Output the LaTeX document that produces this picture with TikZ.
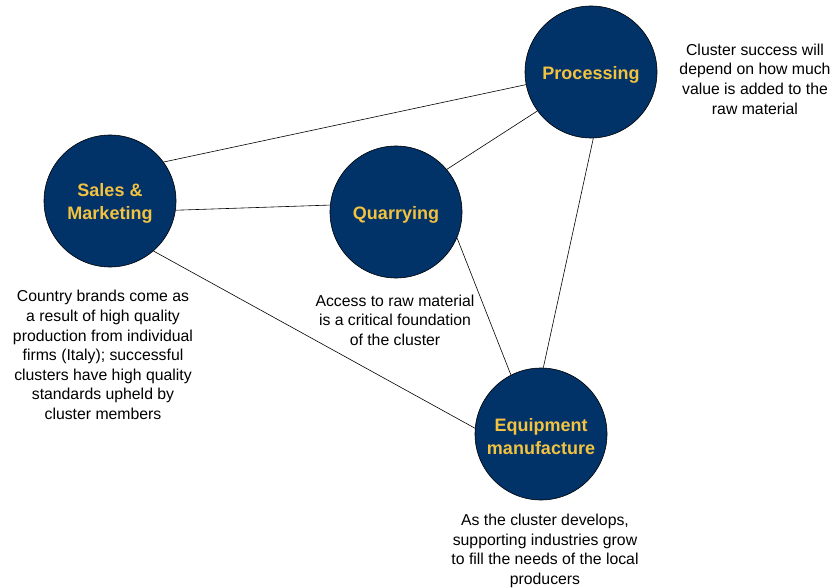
\documentclass[tikz,border=0pt]{standalone}
\usepackage{fontspec}
\setmainfont{Liberation Sans}
\definecolor{navy}{RGB}{1,50,104}
\definecolor{gold}{RGB}{242,194,64}
\begin{document}
\begin{tikzpicture}[x=1pt,y=-1pt,
  hub/.style={circle,draw=black,line width=0.6pt,fill=navy,minimum size=132pt,inner sep=0pt},
  hubtext/.style={text=gold,font=\fontsize{18}{22.5}\selectfont\bfseries,align=center,inner sep=0pt,yshift=-2.5pt},
  note/.style={align=center,font=\fontsize{15.8}{19.6}\selectfont,inner sep=0pt},
  link/.style={draw=black,line width=0.6pt}]
\useasboundingbox (0,0) rectangle (832,588);

% the four cluster elements
\node[hub] (proc) at (591,72) {};
\node[hub] (sales) at (110,201) {};
\node[hub] (quarry) at (396,212) {};
\node[hub] (equip) at (541,434) {};
\node[hubtext] (tproc) at (proc) {Processing};
\node[hubtext] (tsales) at (sales) {Sales \&\\Marketing};
\node[hubtext] (tquarry) at (quarry) {Quarrying};
\node[hubtext] (tequip) at (equip) {Equipment\\manufacture};

% links between the elements
\draw[link] (sales.36) -- (proc.191);
\draw[link] (sales.-8) -- (quarry.174);
\draw[link] (sales.-49) -- (equip.175);
\draw[link] (quarry.40) -- (proc.216);
\draw[link] (quarry.-23) -- (equip.117);
\draw[link] (proc.-88) -- (equip.88);

% explanatory notes
\node[note] (nproc) at (755,79) {Cluster success will\\depend on how much\\value is added to the\\raw material};
\node[note] (nsales) at (103,355) {Country brands come as\\a result of high quality\\production from individual\\firms (Italy); successful\\clusters have high quality\\standards upheld by\\cluster members};
\node[note] (nquarry) at (395,320) {Access to raw material\\is a critical foundation\\of the cluster};
\node[note] (nequip) at (545,551) {As the cluster develops,\\supporting industries grow\\to fill the needs of the local\\producers};
\end{tikzpicture}
\end{document}
